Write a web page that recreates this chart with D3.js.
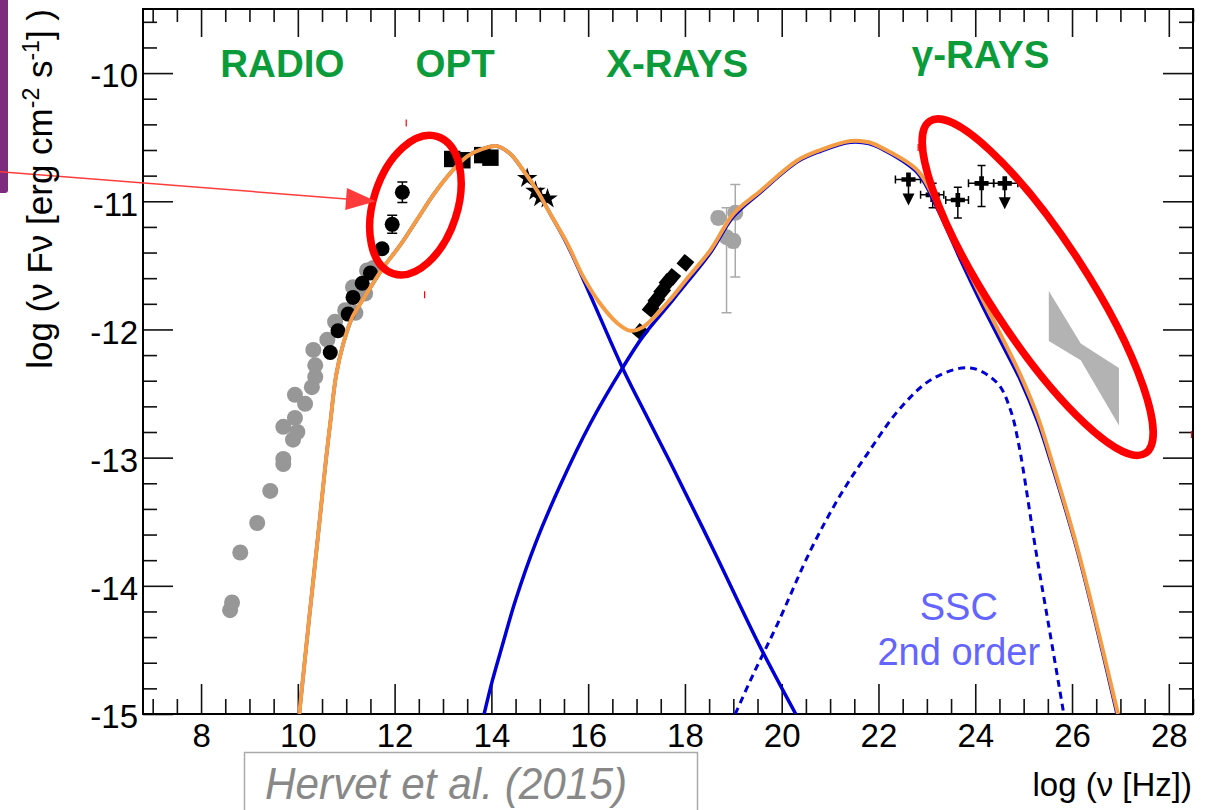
<!DOCTYPE html>
<html>
<head>
<meta charset="utf-8">
<script src="https://cdn.jsdelivr.net/npm/d3@7"></script>
<style>
    body { margin: 0; background: #fff; }
    #sed-vis { width: 1213px; height: 810px; }
    text { font-family: "Liberation Sans", Arial, Helvetica, sans-serif; }
</style>
</head>
<body>
<div id="sed-vis"></div>
<script>
/* * * * * * * * * * * * * *
*          SED data         *
* * * * * * * * * * * * * */
// all values are [log nu (Hz), log nuFnu (erg cm-2 s-1)]

let xTicks = [8, 10, 12, 14, 16, 18, 20, 22, 24, 26, 28];
let yTicks = [-15, -14, -13, -12, -11, -10];

// archival radio (grey dots)
let radioArchive = [
    [8.60, -14.19], [8.64, -14.13], [8.81, -13.74], [9.16, -13.51], [9.43, -13.26],
    [9.70, -13.05], [9.70, -13.01], [9.90, -12.86], [9.99, -12.80], [9.70, -12.76],
    [9.94, -12.69], [10.15, -12.58], [9.94, -12.51], [10.29, -12.45], [10.36, -12.37],
    [10.36, -12.28], [10.32, -12.16], [10.61, -12.08], [10.77, -11.94], [10.98, -11.85],
    [11.19, -11.87], [11.14, -11.67], [11.39, -11.72], [11.43, -11.54], [11.56, -11.52]
];

// radio / sub-mm (black dots) : nu, flux, error
let radioNew = [
    [10.67, -12.18, 0], [10.83, -12.01, 0], [11.04, -11.88, 0], [11.14, -11.75, 0],
    [11.33, -11.64, 0], [11.50, -11.56, 0], [11.74, -11.37, 0], [11.95, -11.18, 0.07],
    [12.16, -10.93, 0.08]
];

let optical = [[13.19, -10.67], [13.40, -10.68], [13.81, -10.64], [13.98, -10.66]];
let ultraviolet = [[14.74, -10.82], [14.91, -10.92], [15.01, -10.97], [15.16, -10.98]];
let xrays = [
    [17.08, -12.02], [17.29, -11.84], [17.41, -11.77], [17.53, -11.70],
    [17.64, -11.63], [17.74, -11.59], [18.01, -11.48]
];

// hard x-rays (grey with error bars) : nu, flux, low, high
let hardX = [
    [18.69, -11.13, -11.18, -11.08], [19.04, -11.09, -11.59, -10.87],
    [18.86, -11.28, -11.87, -11.05], [19.00, -11.31, -11.36, -11.26]
];

// Fermi points : nu, flux, nuLow, nuHigh, fluxLow, fluxHigh, upper limit
let gammaPoints = [
    [22.62, -10.83, 22.35, 22.87, null, null, true],
    [23.12, -10.95, 22.87, 23.35, -11.05, -10.86, false],
    [23.64, -10.99, 23.39, 23.86, -11.13, -10.89, false],
    [24.13, -10.86, 23.86, 24.38, -11.04, -10.72, false],
    [24.61, -10.86, 24.38, 24.88, null, null, true]
];

// VHE butterfly
let vheNu = [25.52, 26.18, 26.97];
let vheUpper = [-11.70, -12.11, -12.30];
let vheLower = [-12.09, -12.24, -12.75];

// model components
let synchrotron = [
    [10.03, -15.0], [10.23, -14.27], [10.42, -13.60], [10.58, -13.02], [10.67, -12.73],
    [10.79, -12.36], [10.94, -12.11], [11.12, -11.91], [11.39, -11.74], [11.76, -11.52],
    [12.12, -11.34], [12.47, -11.14], [12.80, -10.95], [13.15, -10.78], [13.50, -10.65],
    [13.83, -10.59], [14.12, -10.57], [14.39, -10.63], [14.66, -10.76], [14.95, -10.92],
    [15.22, -11.10], [15.57, -11.34], [15.90, -11.61], [16.25, -11.91], [16.71, -12.30],
    [17.20, -12.67], [17.70, -13.04], [18.59, -13.72], [19.56, -14.48], [20.29, -15.0]
];
let ssc = [
    [13.85, -15.0], [14.02, -14.74], [14.23, -14.46], [14.50, -14.11], [14.91, -13.67],
    [15.43, -13.21], [16.05, -12.73], [16.71, -12.30], [17.14, -12.05], [17.64, -11.82],
    [18.05, -11.63], [18.53, -11.40], [19.00, -11.12], [19.56, -10.93], [20.33, -10.69],
    [20.80, -10.61], [21.42, -10.54], [21.80, -10.55], [22.11, -10.60], [22.81, -10.78],
    [23.22, -11.06], [23.70, -11.46], [24.17, -11.83], [24.59, -12.14], [24.94, -12.40],
    [25.29, -12.72], [25.56, -13.03], [26.12, -13.74], [26.93, -15.0]
];
let sscSecond = [
    [19.04, -15.0], [19.40, -14.70], [19.91, -14.30], [20.60, -13.72], [21.20, -13.30],
    [21.77, -12.97], [22.46, -12.61], [23.14, -12.38], [23.90, -12.30], [24.46, -12.42],
    [24.73, -12.63], [24.90, -12.90], [25.25, -13.72], [25.55, -14.38], [25.83, -15.0]
];
let totalModel = [
    [10.03, -15.0], [10.23, -14.27], [10.42, -13.60], [10.58, -13.02], [10.67, -12.73],
    [10.79, -12.36], [10.94, -12.11], [11.12, -11.91], [11.39, -11.74], [11.76, -11.52],
    [12.12, -11.34], [12.47, -11.14], [12.80, -10.95], [13.15, -10.78], [13.50, -10.65],
    [13.83, -10.59], [14.12, -10.57], [14.39, -10.63], [14.66, -10.76], [14.95, -10.92],
    [15.22, -11.10], [15.57, -11.33], [15.90, -11.59], [16.25, -11.80], [16.60, -11.95],
    [16.87, -12.01], [17.14, -11.98], [17.64, -11.79], [18.05, -11.60], [18.53, -11.38],
    [19.00, -11.10], [19.56, -10.92], [20.33, -10.68], [20.80, -10.60], [21.42, -10.53],
    [21.80, -10.54], [22.11, -10.59], [22.81, -10.76], [23.22, -11.03], [23.70, -11.42],
    [24.17, -11.78], [24.59, -12.09], [24.94, -12.36], [25.29, -12.68], [25.56, -13.00],
    [26.12, -13.72], [26.95, -15.0]
];

let bandLabels = ['RADIO', 'OPT', 'X-RAYS', 'γ-RAYS'];
let sscLabel = ['SSC', '2nd order'];
let citation = 'Hervet et al. (2015)';


class SedVis {

    constructor(parentElement) {
        this.parentElement = parentElement;
        this.initVis();
    }

    initVis() {
        let vis = this;

        vis.margin = {top: 9, right: 20, bottom: 96, left: 143};
        vis.width = 1213 - vis.margin.left - vis.margin.right;
        vis.height = 810 - vis.margin.top - vis.margin.bottom;

        vis.svg = d3.select("#" + vis.parentElement).append("svg")
            .attr("width", 1213)
            .attr("height", 810);

        vis.svg.append("rect")
            .attr("width", 1213).attr("height", 810)
            .attr("fill", "#fff");

        // purple slide strip on the left
        vis.svg.append("rect")
            .attr("x", -4).attr("y", -4)
            .attr("width", 12).attr("height", 197)
            .attr("rx", 3)
            .attr("fill", "#7d2b7f");

        vis.g = vis.svg.append("g")
            .attr("transform", `translate(${vis.margin.left}, ${vis.margin.top})`);

        vis.x = d3.scaleLinear().domain([6.8, 28.5]).range([0, vis.width]);
        vis.y = d3.scaleLinear().domain([-15, -9.5]).range([vis.height, 0]);

        vis.g.append("clipPath").attr("id", "plot-clip")
            .append("rect").attr("width", vis.width).attr("height", vis.height);

        vis.drawAxes();
        vis.drawData();
        vis.drawModel();
        vis.drawAnnotations();
    }

    drawAxes() {
        let vis = this;
        let xMinor = d3.range(7, 28.51, 0.5).filter(d => !xTicks.includes(d));
        let yMinor = d3.range(-15, -9.55, 0.2).filter(d => Math.abs(d - Math.round(d)) > 0.01);

        let styleAxis = sel => {
            sel.select(".domain").remove();
            sel.selectAll(".tick line").attr("stroke", "#111").attr("stroke-width", 1.6);
            sel.selectAll("text").attr("fill", "#000").attr("font-size", 33);
        };

        // bottom
        vis.g.append("g").attr("transform", `translate(0, ${vis.height})`)
            .call(d3.axisBottom(vis.x).tickValues(xTicks).tickSize(-30).tickPadding(10).tickFormat(d => String(d)))
            .call(styleAxis);
        vis.g.append("g").attr("transform", `translate(0, ${vis.height})`)
            .call(d3.axisBottom(vis.x).tickValues(xMinor).tickSize(-15).tickFormat(""))
            .call(styleAxis);
        // top
        vis.g.append("g")
            .call(d3.axisTop(vis.x).tickValues(xTicks).tickSize(-28).tickFormat(""))
            .call(styleAxis);
        vis.g.append("g")
            .call(d3.axisTop(vis.x).tickValues(xMinor).tickSize(-13).tickFormat(""))
            .call(styleAxis);
        // left
        vis.g.append("g")
            .call(d3.axisLeft(vis.y).tickValues(yTicks).tickSize(-30).tickPadding(5).tickFormat(d => String(d)))
            .call(styleAxis)
            .selectAll("text").attr("dy", "0.42em");
        vis.g.append("g")
            .call(d3.axisLeft(vis.y).tickValues(yMinor).tickSize(-14).tickFormat(""))
            .call(styleAxis);
        // right
        vis.g.append("g").attr("transform", `translate(${vis.width}, 0)`)
            .call(d3.axisRight(vis.y).tickValues(yTicks).tickSize(-30).tickFormat(""))
            .call(styleAxis);
        vis.g.append("g").attr("transform", `translate(${vis.width}, 0)`)
            .call(d3.axisRight(vis.y).tickValues(yMinor).tickSize(-14).tickFormat(""))
            .call(styleAxis);

        // frame
        vis.g.append("rect")
            .attr("width", vis.width).attr("height", vis.height)
            .attr("fill", "none").attr("stroke", "#000").attr("stroke-width", 2);

        // axis titles
        let yTitle = vis.svg.append("text")
            .attr("transform", "translate(52, 9) rotate(-90)")
            .attr("text-anchor", "end")
            .attr("font-size", 35);
        yTitle.append("tspan").text("log (ν Fν [erg cm");
        yTitle.append("tspan").attr("dy", -13).attr("font-size", 23).text("-2");
        yTitle.append("tspan").attr("dy", 13).text(" s");
        yTitle.append("tspan").attr("dy", -13).attr("font-size", 23).text("-1");
        yTitle.append("tspan").attr("dy", 13).text("] )");

        vis.svg.append("text")
            .attr("x", 1192).attr("y", 796)
            .attr("text-anchor", "end")
            .attr("font-size", 33)
            .text("log (ν [Hz])");
    }

    drawData() {
        let vis = this;
        let x = vis.x, y = vis.y;
        let layer = vis.g.append("g").attr("clip-path", "url(#plot-clip)");

        // VHE butterfly
        let bowtie = vheNu.map((d, i) => ({nu: d, hi: vheUpper[i], lo: vheLower[i]}));
        layer.append("path")
            .datum(bowtie)
            .attr("fill", "#b3b3b3")
            .attr("d", d3.area().x(d => x(d.nu)).y0(d => y(d.lo)).y1(d => y(d.hi)));

        // archival radio
        layer.selectAll(".radio-old").data(radioArchive)
            .enter().append("circle")
            .attr("class", "radio-old")
            .attr("cx", d => x(d[0])).attr("cy", d => y(d[1]))
            .attr("r", 8).attr("fill", "#979797");

        // radio / sub-mm
        layer.selectAll(".radio-err").data(radioNew.filter(d => d[2] > 0))
            .enter().append("path")
            .attr("class", "radio-err")
            .attr("stroke", "#000").attr("stroke-width", 1.5).attr("fill", "none")
            .attr("d", d => {
                let cx = x(d[0]), y0 = y(d[1] - d[2]), y1 = y(d[1] + d[2]);
                return `M${cx},${y0}V${y1}M${cx - 5},${y0}H${cx + 5}M${cx - 5},${y1}H${cx + 5}`;
            });
        layer.selectAll(".radio-new").data(radioNew)
            .enter().append("circle")
            .attr("class", "radio-new")
            .attr("cx", d => x(d[0])).attr("cy", d => y(d[1]))
            .attr("r", 7.5).attr("fill", "#000");

        // optical
        layer.selectAll(".opt").data(optical)
            .enter().append("path")
            .attr("class", "opt")
            .attr("transform", d => `translate(${x(d[0])}, ${y(d[1])})`)
            .attr("d", d3.symbol().type(d3.symbolSquare).size(270))
            .attr("fill", "#000");

        // UV
        layer.selectAll(".uv").data(ultraviolet)
            .enter().append("path")
            .attr("class", "uv")
            .attr("transform", d => `translate(${x(d[0])}, ${y(d[1])})`)
            .attr("d", d3.symbol().type(d3.symbolStar).size(130))
            .attr("fill", "#000");

        // soft x-rays
        layer.selectAll(".xray").data(xrays)
            .enter().append("path")
            .attr("class", "xray")
            .attr("transform", d => `translate(${x(d[0])}, ${y(d[1])}) rotate(40)`)
            .attr("d", d3.symbol().type(d3.symbolSquare).size(160))
            .attr("fill", "#000");

        // hard x-rays
        layer.selectAll(".hx-err").data(hardX)
            .enter().append("path")
            .attr("class", "hx-err")
            .attr("stroke", "#aaa").attr("stroke-width", 1.5).attr("fill", "none")
            .attr("d", d => {
                let cx = x(d[0]), y0 = y(d[2]), y1 = y(d[3]);
                return `M${cx},${y0}V${y1}M${cx - 5},${y0}H${cx + 5}M${cx - 5},${y1}H${cx + 5}`;
            });
        layer.selectAll(".hx").data(hardX)
            .enter().append("circle")
            .attr("class", "hx")
            .attr("cx", d => x(d[0])).attr("cy", d => y(d[1]))
            .attr("r", 8).attr("fill", "#a3a3a3");

        // gamma rays
        let gamma = layer.selectAll(".gamma").data(gammaPoints)
            .enter().append("g")
            .attr("class", "gamma");
        gamma.append("path")
            .attr("stroke", "#000").attr("stroke-width", 1.5).attr("fill", "none")
            .attr("d", d => {
                let cy = y(d[1]), xa = x(d[2]), xb = x(d[3]), cx = x(d[0]);
                let p = `M${xa},${cy}H${xb}M${xa},${cy - 4}V${cy + 4}M${xb},${cy - 4}V${cy + 4}`;
                if (d[6]) {
                    p += `M${cx},${cy}V${cy + 16}`;
                } else {
                    let ya = y(d[4]), yb = y(d[5]);
                    p += `M${cx},${ya}V${yb}M${cx - 4},${ya}H${cx + 4}M${cx - 4},${yb}H${cx + 4}`;
                }
                return p;
            });
        gamma.filter(d => d[6]).append("path")
            .attr("fill", "#000")
            .attr("d", d => {
                let cx = x(d[0]), cy = y(d[1]);
                return `M${cx - 6},${cy + 14}H${cx + 6}L${cx},${cy + 26}Z`;
            });
        gamma.append("path")
            .attr("transform", d => `translate(${x(d[0])}, ${y(d[1])})`)
            .attr("d", d3.symbol().type(d3.symbolCross).size(110))
            .attr("fill", "#000");
    }

    drawModel() {
        let vis = this;
        let layer = vis.g.append("g").attr("clip-path", "url(#plot-clip)");

        let line = d3.line()
            .x(d => vis.x(d[0]))
            .y(d => vis.y(d[1]))
            .curve(d3.curveCatmullRom.alpha(0.5));

        let blue = "#0000d6";

        layer.append("path").datum(synchrotron)
            .attr("fill", "none").attr("stroke", blue).attr("stroke-width", 3.5)
            .attr("d", line);
        layer.append("path").datum(ssc)
            .attr("fill", "none").attr("stroke", blue).attr("stroke-width", 3.5)
            .attr("d", line);
        layer.append("path").datum(sscSecond)
            .attr("fill", "none").attr("stroke", blue).attr("stroke-width", 3)
            .attr("stroke-dasharray", "7,5")
            .attr("d", line);
        layer.append("path").datum(totalModel)
            .attr("fill", "none").attr("stroke", "#f59d45").attr("stroke-width", 4)
            .attr("d", line);
    }

    drawAnnotations() {
        let vis = this;
        let x = vis.x, y = vis.y;

        // band labels
        let bandX = [9.68, 13.25, 17.84, 24.11];
        let bandY = [77, 77, 77, 68];
        vis.g.selectAll(".band").data(bandLabels)
            .enter().append("text")
            .attr("class", "band")
            .attr("x", (d, i) => x(bandX[i]))
            .attr("y", (d, i) => bandY[i] - vis.margin.top)
            .attr("text-anchor", "middle")
            .attr("font-size", 38.5).attr("font-weight", "bold")
            .attr("fill", "#0b9b3b")
            .text(d => d);

        // SSC 2nd order
        vis.g.selectAll(".ssc-label").data(sscLabel)
            .enter().append("text")
            .attr("class", "ssc-label")
            .attr("x", x(23.66))
            .attr("y", (d, i) => 620 + i * 45 - vis.margin.top)
            .attr("text-anchor", "middle")
            .attr("font-size", 38)
            .attr("fill", "#6464ff")
            .text(d => d);

        // red highlight ellipses
        let ellipses = [
            {nu: 12.43, flux: -11.03, rx: 72, ry: 42, angle: -72},
            {nu: 25.29, flux: -11.67, rx: 198, ry: 49, angle: 57}
        ];
        vis.g.selectAll(".highlight").data(ellipses)
            .enter().append("ellipse")
            .attr("class", "highlight")
            .attr("cx", d => x(d.nu)).attr("cy", d => y(d.flux))
            .attr("rx", d => d.rx).attr("ry", d => d.ry)
            .attr("transform", d => `rotate(${d.angle}, ${x(d.nu)}, ${y(d.flux)})`)
            .attr("fill", "none").attr("stroke", "#f00").attr("stroke-width", 7.5);

        // arrow pointing at the sub-mm points
        let arrowFrom = [3.84, -10.77], arrowTo = [11.615, -11.0];
        let x0 = x(arrowFrom[0]), y0 = y(arrowFrom[1]), x1 = x(arrowTo[0]), y1 = y(arrowTo[1]);
        let ang = Math.atan2(y1 - y0, x1 - x0) * 180 / Math.PI;
        vis.g.append("line")
            .attr("x1", x0).attr("y1", y0)
            .attr("x2", x1 - 20).attr("y2", y1 - 20 * Math.tan(ang * Math.PI / 180))
            .attr("stroke", "#ff3b3b").attr("stroke-width", 1.5);
        vis.g.append("path")
            .attr("transform", `translate(${x1}, ${y1}) rotate(${ang})`)
            .attr("d", "M0,0L-30,-11L-30,11Z")
            .attr("fill", "#ff3b3b");

        // stray red marks from the original slide
        let redMarks = [[12.24, -10.39], [12.62, -11.73], [22.82, -10.58], [28.47, -12.82]];
        vis.g.selectAll(".red-mark").data(redMarks)
            .enter().append("line")
            .attr("class", "red-mark")
            .attr("x1", d => x(d[0])).attr("x2", d => x(d[0]))
            .attr("y1", d => y(d[1]) - 3.5).attr("y2", d => y(d[1]) + 3.5)
            .attr("stroke", "#f00").attr("stroke-width", 1.2);

        // citation box
        vis.svg.append("rect")
            .attr("x", 244.5).attr("y", 752.5)
            .attr("width", 453).attr("height", 80)
            .attr("fill", "#fff").attr("stroke", "#aaa").attr("stroke-width", 1.5);
        vis.svg.append("text")
            .attr("x", 265).attr("y", 799)
            .attr("font-size", 44).attr("font-style", "italic")
            .attr("fill", "#888")
            .attr("textLength", 362).attr("lengthAdjust", "spacingAndGlyphs")
            .text(citation);
    }
}

new SedVis("sed-vis");
</script>
</body>
</html>
